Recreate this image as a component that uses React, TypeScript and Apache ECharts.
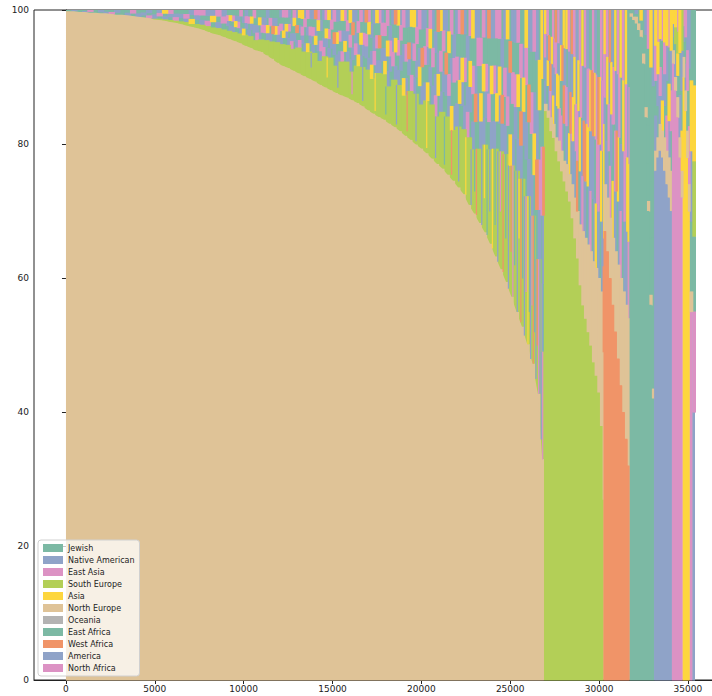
import React, { useEffect, useRef } from "react";
import * as echarts from "echarts";

// ---------- legend / ancestry definitions ----------
const ancestries = [
  "Jewish", "Native American", "East Asia", "South Europe", "Asia", "North Europe",
  "Oceania", "East Africa", "West Africa", "America", "North Africa",
];
const ancestryCodes = ["J", "N", "E", "S", "A", "U", "O", "F", "W", "M", "R"];
const ancestryColors = [
  "#7cb9a4", "#8fa3c8", "#dc92c4", "#b3cf57", "#fdd63e", "#dfc397",
  "#b3b3b3", "#7cb9a4", "#f09468", "#8fa3c8", "#dc92c4",
];

// ---------- axes ----------
const xTicks = [0, 5000, 10000, 15000, 20000, 25000, 30000, 35000];
const yTicks = [0, 20, 40, 60, 80, 100];

// ---------- individuals grouped by dominant ancestry ----------
const groupStart = [0, 26900, 30250, 31720, 33100, 34100, 34700, 35100, 35250];
const groupEnd = [26900, 30250, 31720, 33100, 34100, 34700, 35100, 35250, 35400];
const groupDominant = ["U", "S", "W", "F", "M", "R", "A", "E", "N"];
const groupSecond = ["S", "U", "U", "U", "U", "U", "U", "U", "E"];
const groupColumnWidth = [300, 150, 150, 138, 125, 120, 100, 150, 150];
const groupSmoothEdge = [true, false, false, false, false, false, false, false, false];

// North Europe group: dominant share, second (South Europe) share, remaining mix
const neDominant = [
  99.8, 99.8, 99.7, 99.7, 99.6, 99.6, 99.5, 99.5, 99.4, 99.3,
  99.3, 99.2, 99.1, 99.0, 98.9, 98.8, 98.6, 98.5, 98.4, 98.2,
  98.1, 97.9, 97.7, 97.5, 97.3, 97.1, 96.8, 96.5, 96.3, 96.0,
  95.7, 95.4, 95.1, 94.7, 94.4, 94.0, 93.8, 93.3, 92.8, 92.2,
  91.7, 91.4, 91.0, 90.6, 90.2, 89.8, 89.4, 88.9, 88.5, 88.1,
  87.7, 87.3, 87.0, 86.6, 86.2, 85.7, 85.1, 84.6, 84.1, 83.7,
  83.1, 82.6, 82.0, 81.3, 80.7, 80.0, 79.4, 78.7, 77.9, 77.1,
  76.4, 75.5, 74.6, 73.6, 72.6, 71.0, 69.7, 68.3, 66.9, 65.2,
  63.3, 61.4, 59.5, 57.3, 55.0, 52.8, 50.2, 47.3, 42.8, 33.0,
];
const neSecond = [
  0, 0, 0, 0, 0, 0, 0, 0, 0, 0,
  0, 0, 0, 0, 0, 0, 0.1, 0.2, 0.2, 0.3,
  0.3, 0.4, 0.5, 0.5, 0.6, 0.7, 0.8, 0.9, 1.0, 1.1,
  1.2, 1.3, 1.4, 1.6, 1.7, 1.5, 1.8, 2.2, 2.5, 3.0,
  3.2, 3.4, 3.2, 3.8, 3.6, 4.0, 4.2, 3.5, 4.6, 4.8,
  4.0, 5.0, 5.3, 4.2, 5.5, 5.8, 6.0, 5.2, 6.5, 6.8,
  5.5, 7.0, 6.8, 6.0, 7.2, 7.5, 6.5, 7.8, 8.0, 7.0,
  8.4, 8.6, 7.5, 9.0, 9.6, 10, 9.5, 11, 13, 14,
  16, 17.5, 19, 19.5, 21, 22, 22, 22, 20, 16,
];
// remaining ancestries per column, bottom to top; "|" splits a column into narrower individuals
const neFringe = [
  "J", "JN", "J", "NJ", "JE", "J", "JN", "NJ", "EJ", "JN",
  "J", "NJ", "JE", "NJ", "JNJ", "EJN", "NJ", "JEN", "NJA", "JNE",
  "ENJ", "JNJ", "NEJ", "AJN", "JNE", "NJE", "EJN", "JAN", "NJE", "JEN",
  "JNEJ|NJAJ", "NJEJ|JANJ", "JENJ|NJJE", "AJNJ|JNEN", "NJEJ|JNAJ",
  "JNJE|ENJJ", "NJAJ|JENJ", "JENJ|NAJN", "NJEJ|JWNJ", "JANJ|NEJJ",
  "NJEJN|JANJE", "JNAJE|NJEJN", "ENJNJ|JNJAE", "NJWJN|EJNJA", "JNEJA|NJJEN",
  "AJNJE|JNEJN", "NJEJN|JANJW", "JNJAE|NEJNJ", "ENJJN|JNAJE", "NJEJA|JNJEN",
  "JNWJE|NJAJN", "NJEJN|EJNJA", "JANJE|NJNEJ", "NJEJA|JNJWN", "JENJN|ANJEJ",
  "NJAJE|JNEJN", "JNEJW|NJJAE", "ANJNJ|JENJN", "NJEJA|NJWJE", "JNJEN|ANJEJ",
  "NJAJE|JNENJ", "JENJN|NJAJW", "NJEJA|JNJEN", "AJNJE|NJEJN", "JNWJN|EJNJA",
  "NJEJA|JNJEN", "JANJE|NJWJN", "NJEJN|AJNEJ", "JNJAE|NJEJN", "ENJNJ|JANJW",
  "NJEJA|JNJEN", "JNWJN|NEJAJ", "AJNJE|NJENJ", "NJEJN|JANJE", "JNAJW|NJEJN",
  "ENJNJ|JNAJE", "NJEJA|JWNJN", "JNJEN|NAJEJ", "NJAJE|JNEJN", "JENJW|NJAJN",
  "NJEJN|JANJE", "JNAJE|NWJNJ", "NJEJN|JENJA", "AJNWJ|NJEJN", "JNEJN|NJAJE",
  "NWJEJ|JNANJ", "JNJEA|NJWJN", "NJEJN|JANJE", "JWNJN|NEJAJ", "NJEJA|JNWJN",
];

// South Europe group
const seDominant = [
  85, 84, 82, 81, 79, 77.5, 76, 74.5, 73, 71.5, 69, 66,
  63, 59, 56, 54, 52, 50, 47.5, 45.5, 43, 38, 27,
];
const seSecond = [1, 1, 2, 2, 2, 3, 3, 3, 4, 4, 5, 6, 7, 9, 11, 12, 13, 14, 15, 16, 17, 20, 22];
const seFringe = [
  "NJEA|JNJE", "JANE|NJWJ", "EWNJ|JNAJ", "ANJE|NJEJ", "JNEW|JANJ", "NAJE|EJNJ",
  "EJAN|NJWJ", "JWNA|JENJ", "NEJA|JNJE", "AJNE|NWJJ", "JENW|NAJE", "NJAE|JENJ",
  "WEJN|JNAJ", "JANE|NJEJ", "ENJA|JWNJ", "NWJE|JANJ", "JAEN|NJEJ", "ENAJ|JNWJ",
  "JNWE|NJAJ", "AJEN|JENJ", "NEWJ|JNAJ", "JANE|NJEJ", "WNJE|JAN",
];

// West Africa group
const waDominant = [67, 64, 60, 56, 52, 48, 44, 40, 36, 32];
const waSecond = [7, 8, 9, 10, 12, 14, 16, 18, 20, 22];
const waFringe = [
  "JNEA|NJJE", "NJAE|JENJ", "EJNW|JNAJ", "AJEN|NJEJ", "NEJA|JWNJ",
  "JANE|NJEJ", "ENJA|JNJE", "JNAE|NEJJ", "NJEA|JANJ", "EANJ|JNEJ",
];

// East Africa group (Jewish share above shows in the same teal)
const eaDominant = [99, 98.5, 98, 97, 96, 92, 84, 70, 56, 42];
const eaSecond = [0.5, 0.5, 1, 1, 1, 1.5, 1.5, 1.5, 1.5, 1.5];
const eaFringe = ["J", "J", "JN", "J", "JA", "J", "JJJN", "JJJJE", "JJJJA", "JJJJN"];

// America group
const amDominant = [76, 78, 79, 78, 76, 74, 72, 70];
const amSecond = [3, 3, 4, 4, 5, 5, 6, 6];
const amFringe = ["NJEA", "JNAE", "NEJA", "ANJE", "JNEA", "EJNA", "NAJE", "JENA"];

// North Africa group
const nafDominant = [92, 88, 84, 78, 72];
const nafSecond = [2, 2, 3, 3, 4];
const nafFringe = ["JNA", "NJSA", "JASE", "NJA", "AJNS"];

// Asia group
const asDominant = [90, 85, 78, 70];
const asSecond = [3, 3, 4, 4];
const asFringe = ["JNE", "NJE", "JEN", "EJN"];

// last few individuals
const eastAsiaDominant = [55];
const eastAsiaSecond = [3];
const eastAsiaFringe = ["JNAJ"];
const nativeDominant = [40];
const nativeSecond = [15];
const nativeFringe = ["JSAJ"];

const groupDominantShares = [neDominant, seDominant, waDominant, eaDominant, amDominant, nafDominant, asDominant, eastAsiaDominant, nativeDominant];
const groupSecondShares = [neSecond, seSecond, waSecond, eaSecond, amSecond, nafSecond, asSecond, eastAsiaSecond, nativeSecond];
const groupFringes = [neFringe, seFringe, waFringe, eaFringe, amFringe, nafFringe, asFringe, eastAsiaFringe, nativeFringe];

// thin individual stripes reaching down through the South Europe band (x, ancestry, lowest %)
const spikes: [number, string, number][] = [
  [13800, "N", 91.5], [14700, "A", 90], [15300, "N", 88.5], [16100, "E", 87.5],
  [16700, "N", 86.5], [17400, "A", 85], [18000, "J", 84.5], [18600, "N", 83],
  [19200, "W", 82], [19700, "N", 80.5], [20300, "A", 79.5], [20800, "N", 78],
  [21300, "J", 77], [21700, "W", 75.5], [22100, "N", 74.5], [22500, "A", 72.5],
  [22800, "N", 71], [23000, "J", 73], [23100, "W", 69.5], [23400, "N", 68],
  [23550, "A", 72], [23700, "J", 66.5], [23850, "N", 70], [24000, "A", 64.5],
  [24150, "J", 68], [24300, "N", 62.5], [24450, "E", 70], [24600, "W", 61],
  [24750, "J", 66], [24900, "N", 58.5], [25050, "W", 64], [25150, "E", 57],
  [25250, "J", 62], [25400, "N", 55], [25500, "A", 66], [25600, "W", 53.5],
  [25700, "J", 60], [25800, "N", 51.5], [25900, "E", 58], [26000, "A", 50],
  [26080, "J", 55], [26150, "N", 48], [26230, "E", 56], [26300, "W", 47],
  [26380, "J", 52], [26450, "N", 45], [26520, "W", 50], [26600, "E", 42],
  [26680, "N", 40], [26750, "N", 36], [26830, "E", 30],
];

// item layout: [x0, x1, y0, y1, colorIndex, groupIndex(-1 = plain rect)]
function buildItems() {
  const perAncestry: number[][][] = ancestries.map(() => []);
  const push = (code: string, x0: number, x1: number, y0: number, y1: number) => {
    const idx = ancestryCodes.indexOf(code);
    if (idx < 0 || y1 <= y0) return;
    perAncestry[idx].push([x0, x1, y0, y1, idx, -1]);
  };
  const underlay: number[][] = [];
  const columnTops: { x0: number; x1: number; dom: number; top: number }[] = [];
  for (let g = 0; g < groupStart.length; g++) {
    const dom = groupDominantShares[g];
    const sec = groupSecondShares[g];
    const fr = groupFringes[g];
    const w = groupColumnWidth[g];
    const di = ancestryCodes.indexOf(groupDominant[g]);
    underlay.push([groupStart[g], groupEnd[g], 0, 100, di, -1]);
    // dominant layer drawn as one outline per group
    perAncestry[di].push([groupStart[g], groupEnd[g], 0, Math.max(...dom), di, g]);
    for (let k = 0; k < dom.length; k++) {
      const x0 = groupStart[g] + k * w;
      const x1 = Math.min(x0 + w, groupEnd[g]);
      const d = dom[k];
      const s = d + sec[k];
      push(groupSecond[g], x0, x1, d, s);
      const parts = fr[k].split("|");
      const pw = (x1 - x0) / parts.length;
      parts.forEach((part, pi) => {
        const px0 = x0 + pi * pw;
        const px1 = px0 + pw;
        const letters = part.split("");
        const step = (100 - s) / letters.length;
        letters.forEach((c, i) => push(c, px0, px1, s + i * step, s + (i + 1) * step));
      });
      if (g === 0) columnTops.push({ x0, x1, dom: d, top: s });
    }
  }
  const spikeRects: number[][] = [];
  spikes.forEach(([x, code, low]) => {
    const col = columnTops.find((c) => x >= c.x0 && x < c.x1);
    if (!col) return;
    const bottom = Math.max(low, col.dom);
    if (bottom >= col.top) return;
    spikeRects.push([x - 35, x + 35, bottom, col.top, ancestryCodes.indexOf(code), -1]);
  });
  return { perAncestry, spikeRects, underlay };
}

export default function App() {
  const ref = useRef<HTMLDivElement>(null);
  useEffect(() => {
    if (!ref.current) return;
    const chart = echarts.init(ref.current, undefined, { renderer: "svg" });
    const { perAncestry, spikeRects, underlay } = buildItems();

    const render = (overlap: number) => (params: any, api: any) => {
      const fill = ancestryColors[api.value(4)];
      const g = api.value(5);
      if (g >= 0) {
        const dom = groupDominantShares[g];
        const w = groupColumnWidth[g];
        const pts: number[][] = [api.coord([groupStart[g], 0]), api.coord([groupStart[g], dom[0]])];
        for (let k = 0; k < dom.length; k++) {
          const x0 = groupStart[g] + k * w;
          const x1 = Math.min(x0 + w, groupEnd[g]);
          if (groupSmoothEdge[g]) {
            pts.push(api.coord([(x0 + x1) / 2, dom[k]]));
          } else {
            pts.push(api.coord([x0, dom[k]]));
            pts.push(api.coord([x1, dom[k]]));
          }
        }
        pts.push(api.coord([groupEnd[g], dom[dom.length - 1]]));
        pts.push(api.coord([groupEnd[g], 0]));
        return { type: "polygon", shape: { points: pts }, style: { fill } };
      }
      const a = api.coord([api.value(0), api.value(3)]);
      const b = api.coord([api.value(1), api.value(2)]);
      return {
        type: "rect",
        shape: { x: a[0], y: a[1], width: b[0] - a[0] + overlap, height: b[1] - a[1] + 0.6 },
        style: { fill },
      };
    };

    const enc = { x: [0, 1], y: [2, 3] };
    const series: any[] = [
      { type: "custom", name: "underlay", renderItem: render(0), encode: enc, data: underlay, silent: true, z: 1 },
    ];
    ancestries.forEach((name, i) =>
      series.push({
        type: "custom",
        name,
        renderItem: render(1),
        itemStyle: { color: ancestryColors[i] },
        encode: enc,
        data: perAncestry[i],
        silent: true,
        z: 2,
      })
    );
    series.push({ type: "custom", name: "stripes", renderItem: render(0), encode: enc, data: spikeRects, silent: true, z: 3 });

    const font = "DejaVu Sans";
    chart.setOption({
      animation: false,
      backgroundColor: "#ffffff",
      grid: {
        left: 34, right: -2, top: 10, bottom: 16,
        show: true, borderColor: "#222", borderWidth: 1,
        outerBoundsMode: "none",
      },
      legend: {
        data: ancestries,
        orient: "vertical",
        left: 38,
        top: 540,
        icon: "rect",
        itemWidth: 20,
        itemHeight: 8,
        itemGap: 4,
        padding: [4, 5, 4, 5],
        backgroundColor: "rgba(255,255,255,0.75)",
        borderColor: "#d0d0d0",
        borderWidth: 1,
        borderRadius: 3,
        selectedMode: false,
        textStyle: { fontFamily: font, fontSize: 8, color: "#222", lineHeight: 8 },
      },
      xAxis: {
        type: "value",
        min: -1800,
        max: 36470,
        splitLine: { show: false },
        axisLine: { show: true, onZero: false, lineStyle: { color: "#222", width: 1 } },
        axisTick: { show: true, length: 4, lineStyle: { color: "#222" }, customValues: xTicks },
        axisLabel: {
          fontFamily: font, fontSize: 9, color: "#222", margin: 4, customValues: xTicks,
          formatter: (v: number) => String(v),
        },
      },
      yAxis: {
        type: "value",
        min: 0,
        max: 100,
        interval: 20,
        splitLine: { show: false },
        axisLine: { show: true, lineStyle: { color: "#222", width: 1 } },
        axisTick: { show: true, length: 4, lineStyle: { color: "#222" }, customValues: yTicks },
        axisLabel: {
          fontFamily: font, fontSize: 9, color: "#222", margin: 5, customValues: yTicks,
          formatter: (v: number) => String(v),
        },
      },
      series,
    });
    return () => chart.dispose();
  }, []);
  return (
    <div
      ref={ref}
      style={{ position: "absolute", left: 0, top: 0, width: 712, height: 696 }}
    />
  );
}
